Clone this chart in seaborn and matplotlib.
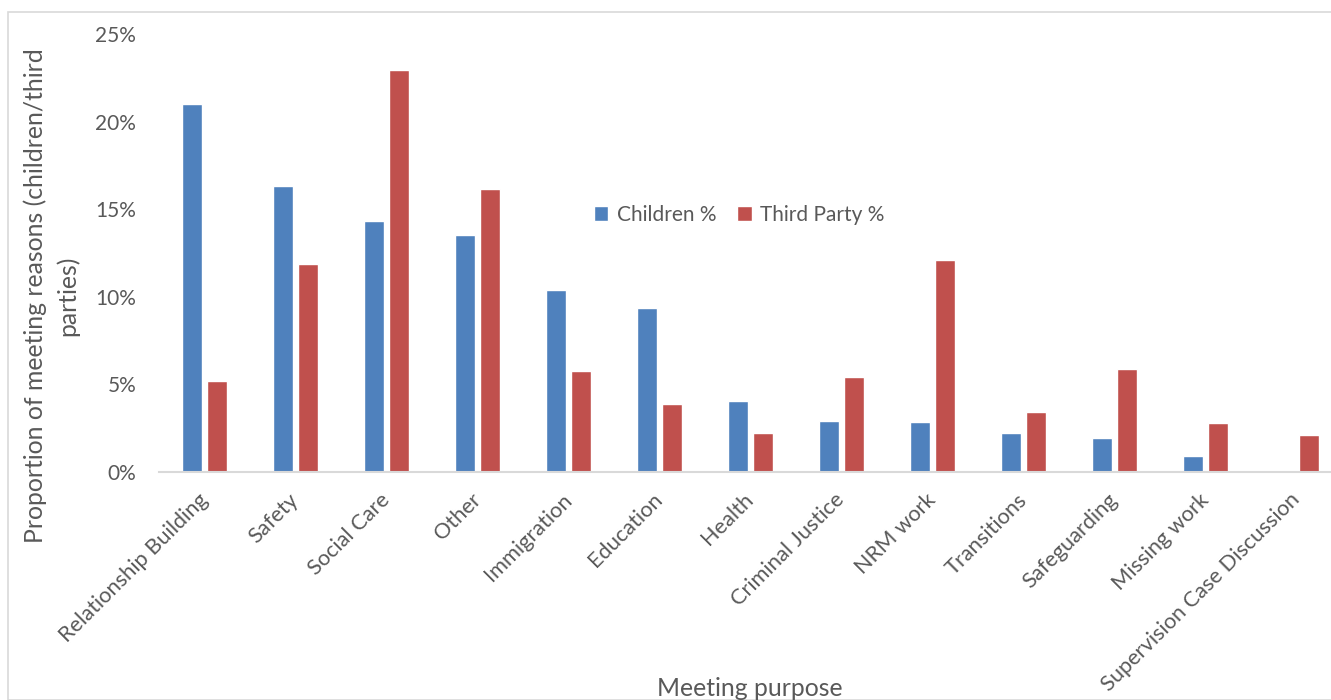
import pandas as pd
import matplotlib.pyplot as plt
import seaborn as sns
from matplotlib.patches import Rectangle
from matplotlib.ticker import PercentFormatter

# chart data
purposes = ["Relationship Building", "Safety", "Social Care", "Other", "Immigration",
            "Education", "Health", "Criminal Justice", "NRM work", "Transitions",
            "Safeguarding", "Missing work", "Supervision Case Discussion"]
children_pct = [21.0, 16.3, 14.3, 13.5, 10.35, 9.35, 4.05, 2.9, 2.82, 2.2, 1.92, 0.9, 0.0]
third_party_pct = [5.18, 11.85, 22.97, 16.12, 5.75, 3.87, 2.19, 5.42, 12.12, 3.42, 5.86, 2.78, 2.08]

series_names = ["Children %", "Third Party %"]
colors = ["#4F81BD", "#C0504D"]
text_grey = "#595959"

df = pd.DataFrame({
    "purpose": purposes * 2,
    "value": children_pct + third_party_pct,
    "series": [series_names[0]] * len(purposes) + [series_names[1]] * len(purposes),
})

sns.set_theme(style="white")
plt.rcParams['font.family'] = ['Lato', 'DejaVu Sans']

fig = plt.figure(figsize=(13.31, 7.0), dpi=100)
ax = fig.add_axes([159 / 1331, 228.3 / 700, 1183 / 1331, 437.7 / 700])

sns.barplot(data=df, x="purpose", y="value", hue="series", order=purposes,
            hue_order=series_names, palette=colors, width=0.55, gap=0.2,
            saturation=1, ax=ax, legend=True)

ax.set_xlim(-0.5, 12.5)
ax.set_ylim(0, 25)
ax.set_yticks([0, 5, 10, 15, 20, 25])
ax.yaxis.set_major_formatter(PercentFormatter(decimals=0))
ax.tick_params(axis="y", labelsize=15, colors=text_grey, length=0, pad=16.5)
ax.tick_params(axis="x", labelsize=15.7, colors=text_grey, length=0, pad=18)
for lab in ax.get_xticklabels():
    lab.set_rotation(45)
    lab.set_ha("right")
    lab.set_va("center")
    lab.set_rotation_mode("anchor")

for side in ["top", "right", "left"]:
    ax.spines[side].set_visible(False)
ax.spines["bottom"].set_color("#D9D9D9")
ax.spines["bottom"].set_linewidth(1.5)

ax.set_xlabel("")
ax.set_ylabel("")
fig.text(750 / 1331, 12 / 700, "Meeting purpose", ha="center", va="center",
         fontsize=17.8, color=text_grey)
fig.text(51.5 / 1331, 404 / 700, "Proportion of meeting reasons (children/third\nparties)",
         ha="center", va="center", rotation=90, fontsize=17.8, color=text_grey,
         linespacing=1.45)

leg = ax.legend(loc="center", bbox_to_anchor=(739 / 1331, 485 / 700),
                bbox_transform=fig.transFigure, ncol=2, frameon=False,
                fontsize=15, handlelength=0.7, handleheight=0.7,
                handletextpad=0.4, columnspacing=1.0, labelcolor=text_grey)

# chart area border
fig.patches.append(Rectangle((8 / 1331, 0), 1.0, 688 / 700, transform=fig.transFigure,
                             fill=False, edgecolor="#D9D9D9", linewidth=1.2))

fig.savefig("out.png", dpi=100)
